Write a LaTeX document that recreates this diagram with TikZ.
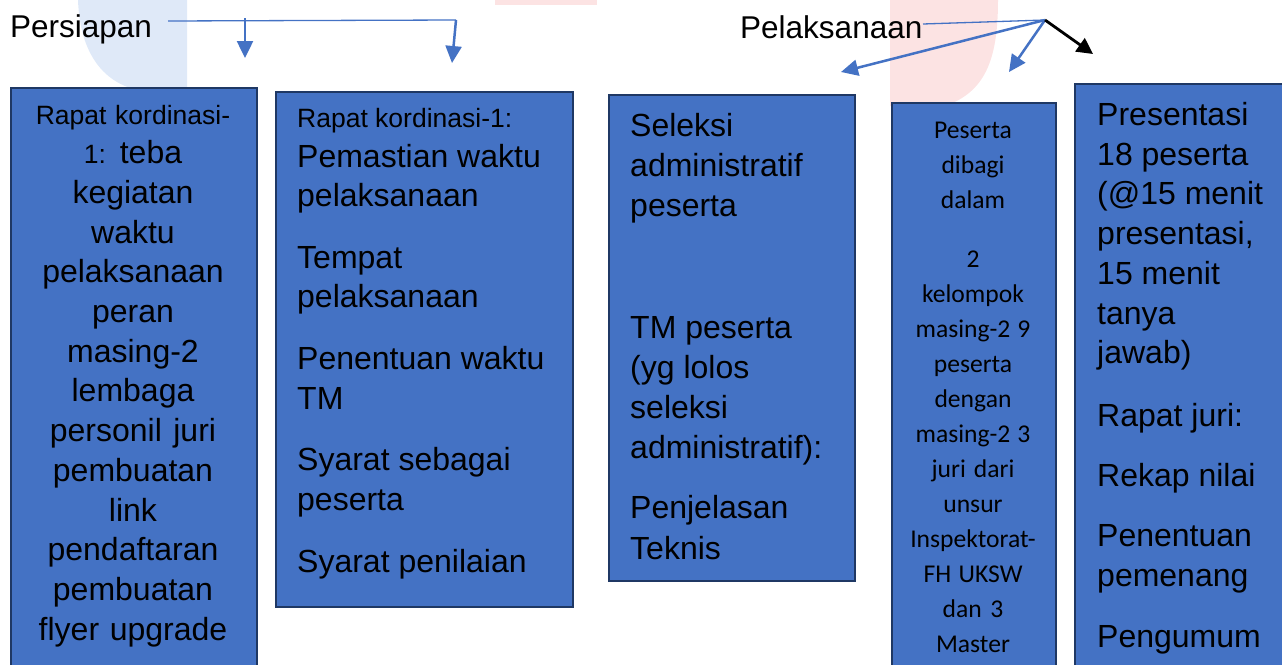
\documentclass[tikz,border=0pt]{standalone}
\usepackage{fontspec}
\setmainfont{Liberation Sans}
\newfontfamily\calib{Carlito}
\usetikzlibrary{arrows.meta}
\definecolor{boxfill}{HTML}{4472C4}
\definecolor{boxline}{HTML}{1F3864}
\definecolor{arrblue}{HTML}{4472C4}
\definecolor{wmblue}{HTML}{DFE9F8}
\definecolor{wmred}{HTML}{FCE3E3}
\tikzset{
  stagebox/.style={draw=boxline, line width=2pt, fill=boxfill, inner sep=0pt, anchor=north west},
  big/.style={font=\fontsize{32}{39.7}\selectfont},
  boxtext/.style={inner sep=0pt, text=black, execute at begin node={\frenchspacing\spaceskip=0pt\xspaceskip=0pt\relax}},
  label/.style={inner sep=0pt, anchor=base west, font=\fontsize{31.5}{36}\selectfont},
  thinline/.style={draw=arrblue, line width=1.3pt},
  bluearrow/.style={draw=arrblue, line width=2.5pt, -{Triangle[length=17pt,width=16pt]}},
  blackarrow/.style={draw=black, line width=2.8pt, -{Triangle[length=16pt,width=16pt]}}
}
\newcommand{\sm}{\fontsize{26.5}{39.7}\selectfont}
\begin{document}
\begin{tikzpicture}[x=1pt,y=-1pt]
\useasboundingbox (0,0) rectangle (1282,664);
\clip (0,0) rectangle (1282,664);
% watermark shapes
\fill[wmblue] (78,0) .. controls (80,55) and (105,88) .. (150,92) -- (187,92) -- (187,0) -- cycle;
\fill[wmred] (890,0) -- (998,0) .. controls (998,60) and (985,92) .. (945,106) -- (890,106) -- cycle;
\fill[wmred] (495,0) rectangle (597,5);
% boxes
\node[stagebox, minimum width=246pt, minimum height=640pt] (b1) at (10,87) {};
\node[stagebox, minimum width=297pt, minimum height=515pt] (b2) at (275,91) {};
\node[stagebox, minimum width=246pt, minimum height=486pt] (b3) at (608,94) {};
\node[stagebox, minimum width=164pt, minimum height=620pt] (b4) at (891,102) {};
\node[stagebox, minimum width=240pt, minimum height=640pt] (b5) at (1074,83) {};
% box texts
\node[boxtext, big, anchor=base, text width=240pt, align=center] (t1) at (133,124)
 {{\sm Rapat kordinasi-}\\{\sm 1:} teba\\kegiatan\\waktu\\pelaksanaan\\peran\\masing-2\\lembaga\\personil juri\\pembuatan\\link\\pendaftaran\\pembuatan\\flyer upgrade};
\node[boxtext, font=\fontsize{32}{39.5}\selectfont, anchor=base west, text width=270pt, align=left] (t2) at (297,127.5)
 {{\sm Rapat kordinasi-1:}\\Pemastian waktu\\pelaksanaan\\[22.3pt]Tempat\\pelaksanaan\\[22.3pt]Penentuan waktu\\TM\\[22.3pt]Syarat sebagai\\peserta\\[22.3pt]Syarat penilaian};
\node[boxtext, font=\fontsize{32}{40.2}\selectfont, anchor=base west, text width=220pt, align=left] (t3) at (630,136.5)
 {Seleksi\\administratif\\peserta\\[81pt]TM peserta\\(yg lolos\\seleksi\\administratif):\\[20pt]Penjelasan\\Teknis};
\node[boxtext, font=\calib\fontsize{25.6}{35}\selectfont, anchor=base, text width=158pt, align=center] (t4) at (973,138.5)
 {Peserta\\dibagi\\dalam\\[23.5pt]2\\kelompok\\masing-2 9\\peserta\\dengan\\masing-2 3\\juri dari\\unsur\\Inspektorat-\\FH UKSW\\dan 3\\Master};
\node[boxtext, big, anchor=base west, text width=200pt, align=left] (t5) at (1097,125.5)
 {Presentasi\\18 peserta\\(@15 menit\\presentasi,\\15 menit\\tanya\\jawab)\\[23pt]Rapat juri:\\[20pt]Rekap nilai\\[21pt]Penentuan\\pemenang\\[21.5pt]Pengumum};
% labels
\node[label] (pers) at (10,37.5) {Persiapan};
\node[label] (pelak) at (740,38) {Pelaksanaan};
% Persiapan connectors
\coordinate (pstart) at (168,21);
\coordinate (pcorner) at (456,20);
\coordinate (pa1s) at (245,18);
\coordinate (pa1e) at (245,58);
\coordinate (pa2e) at (452,63);
\draw[thinline] (pstart) -- (pcorner);
\draw[bluearrow] (pa1s) -- (pa1e);
\draw[bluearrow] (pcorner) -- (pa2e);
% Pelaksanaan connectors
\coordinate (pend) at (923,24);
\coordinate (hub) at (1045,20);
\coordinate (la1) at (841,72);
\coordinate (la2) at (1009,72);
\coordinate (la3) at (1093,54);
\draw[thinline] (pend) -- (hub);
\draw[bluearrow] (hub) -- (la1);
\draw[bluearrow] (hub) -- (la2);
\draw[blackarrow] (hub) -- (la3);
\end{tikzpicture}
\end{document}
